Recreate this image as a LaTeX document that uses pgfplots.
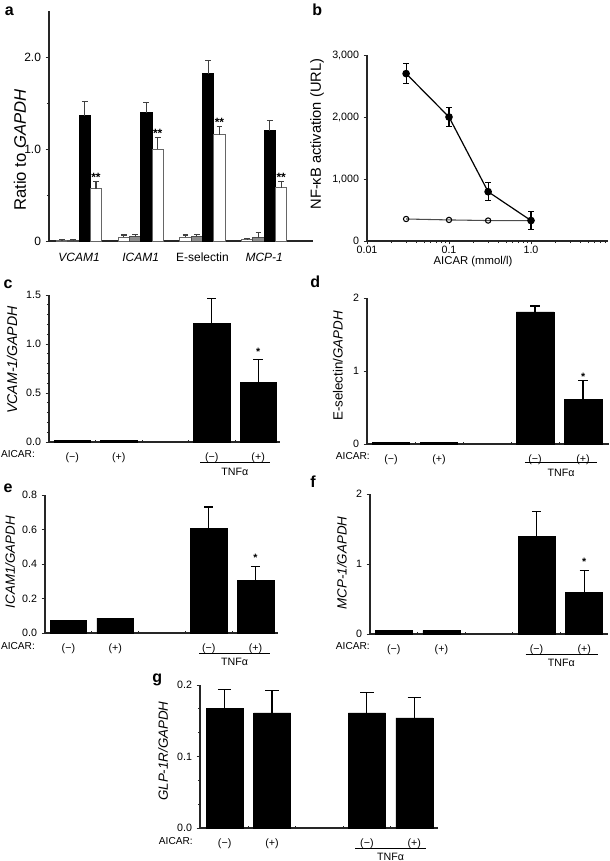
\documentclass[border=0pt]{standalone}
\usepackage{fontspec}
\setmainfont{Liberation Sans}
\usepackage{pgfplots}
\pgfplotsset{compat=1.18}

\newcommand{\tf}{\fontsize{8}{9}\selectfont}
\newcommand{\midticks}[1]{%
  \draw[line width=0.6pt, black!85] (axis cs:1.5,0) -- (axis cs:1.5,#1);
  \draw[line width=0.6pt, black!85] (axis cs:2.5,0) -- (axis cs:2.5,#1);
  \draw[line width=0.6pt, black!85] (axis cs:3.5,0) -- (axis cs:3.5,#1);
  \draw[line width=0.6pt, black!85] (axis cs:4.5,0) -- (axis cs:4.5,#1);
}
\pgfplotsset{
  base/.style={
    scale only axis,
    axis lines*=left,
    axis line style={line width=0.8pt, black!85},
    tick style={black!85, line width=0.6pt},
    tick align=outside,
    major tick length=2.5pt,
    minor tick length=1.5pt,
    tick label style={font=\tf},
    label style={font=\fontsize{10}{11}\selectfont},
    /pgf/number format/assume math mode=true,
    clip=false,
    anchor=south west,
  },
  barpanel/.style={
    base,
    xmin=0.5, ymin=0,
    xtick={1,2,4,5},
    xticklabels={(−),(+),(−),(+)},
    x tick style={draw=none},
    xticklabel style={yshift=-2pt},
  },
  blackbar/.style={ybar, bar width=0.78, bar shift=0pt, fill=black, draw=black, line width=0.4pt,
    error bars/y dir=plus, error bars/y explicit,
    error bars/error bar style={line width=0.9pt, black},
    error bars/error mark options={rotate=90, line width=0.9pt, mark size=3.5pt, black}},
  abar/.style={ybar, bar width=0.183, bar shift=0pt, line width=0.6pt,
    error bars/y dir=plus, error bars/y explicit,
    error bars/error bar style={line width=0.8pt, black!75},
    error bars/error mark options={rotate=90, line width=0.8pt, mark size=2.2pt, black!75}},
}

\begin{document}
\begin{tikzpicture}
\path[use as bounding box] (0,0) rectangle (457.5pt,-645.75pt);

% panel letters
\begin{scope}[every node/.style={font=\fontsize{12}{12}\selectfont\bfseries, anchor=base west, inner sep=0pt}]
\node at (3.5pt,-11.25pt) {a};
\node at (234pt,-11.25pt) {b};
\node at (2.5pt,-216pt) {c};
\node at (232.5pt,-215.25pt) {d};
\node at (2.5pt,-369pt) {e};
\node at (232.5pt,-365.25pt) {f};
\node at (114pt,-512pt) {g};
\end{scope}

% y label of panel a
\node[rotate=90, font=\fontsize{12.5}{13}\selectfont, inner sep=0pt] at (15pt,-112.5pt) {Ratio to \textit{GAPDH}};

% AICAR labels
\begin{scope}[every node/.style={font=\fontsize{7.6}{9}\selectfont, inner sep=0pt}]
\node[anchor=west] at (0.6pt,-340.5pt) {AICAR:};
\node[anchor=east] at (277.5pt,-342pt) {AICAR:};
\node[anchor=west] at (0.6pt,-484.5pt) {AICAR:};
\node[anchor=east] at (277.5pt,-484.5pt) {AICAR:};
\node[anchor=east] at (144.75pt,-630.75pt) {AICAR:};
\end{scope}

% ---------------- panel a
\begin{axis}[base, at={(36.75pt,-180.75pt)}, width=198pt, height=172.5pt,
  xmin=0.514, xmax=4.79, ymin=0, ymax=2.5,
  ytick={0,1,2}, yticklabels={0,1.0,2.0}, minor ytick={0.5,1.5},
  tick label style={font=\fontsize{9}{10}\selectfont},
  xtick={1,2,3,4},
  xticklabels={\textit{VCAM1},\textit{ICAM1},E-selectin,\textit{MCP-1}},
  x tick style={draw=none}, xticklabel style={yshift=-3pt},
]
\addplot[abar, fill=white, draw=black!60] coordinates {(0.725,0.01) +- (0,0.005) (1.725,0.04) +- (0,0.025) (2.725,0.04) +- (0,0.025) (3.725,0.015) +- (0,0.015)};
\addplot[abar, fill=black!45, draw=black!70] coordinates {(0.908,0.01) +- (0,0.005) (1.908,0.045) +- (0,0.025) (2.908,0.045) +- (0,0.025) (3.908,0.035) +- (0,0.055)};
\addplot[abar, fill=black, draw=black] coordinates {(1.092,1.36) +- (0,0.16) (2.092,1.395) +- (0,0.115) (3.092,1.82) +- (0,0.14) (4.092,1.20) +- (0,0.11)};
\addplot[abar, fill=white, draw=black!60] coordinates {(1.275,0.57) +- (0,0.075) (2.275,1.0) +- (0,0.13) (3.275,1.155) +- (0,0.085) (4.275,0.58) +- (0,0.065)};
\begin{scope}[every node/.style={font=\fontsize{9}{9}\selectfont\bfseries, inner sep=0pt}]
\node at (axis cs:1.275,0.69) {**};
\node at (axis cs:2.275,1.17) {**};
\node at (axis cs:3.275,1.29) {**};
\node at (axis cs:4.275,0.69) {**};
\end{scope}
\end{axis}

% ---------------- panel b
\begin{axis}[base, at={(275.25pt,-180.75pt)}, width=180.75pt, height=139.5pt,
  xmode=log, xmin=0.01, xmax=8.69, ymin=0, ymax=3000,
  xtick={0.01,0.1,1}, xticklabels={0.01,0.1,1.0},
  minor xtick={0.02,0.03,0.04,0.05,0.06,0.07,0.08,0.09,0.2,0.3,0.4,0.5,0.6,0.7,0.8,0.9,2,3,4,5,6,7,8},
  ytick={0,1000,2000,3000}, yticklabels={0,{1,000},{2,000},{3,000}},
  xticklabel style={yshift=2pt},
  xlabel={AICAR (mmol/l)},
  xlabel style={at={(axis description cs:0.44,-0.113)}, anchor=center, font=\fontsize{8.5}{9}\selectfont},
  ylabel={NF-κB activation (URL)},
  ylabel style={at={(axis description cs:-0.207,0.575)}, anchor=center, font=\fontsize{11}{12}\selectfont},
]
\addplot[black!70, line width=0.8pt, mark=o, mark size=2pt, mark options={fill=white, black, line width=0.8pt}] coordinates {(0.03,355) (0.1,340) (0.3,330) (1.0,330)};
\addplot[black, line width=0.9pt, mark=*, mark size=2.4pt,
  error bars/y dir=both, error bars/y explicit,
  error bars/error bar style={line width=0.9pt}, error bars/error mark options={rotate=90, line width=0.9pt, mark size=2pt}]
  coordinates {(0.03,2700) +- (0,160) (0.1,2000) +- (0,150) (0.3,795) +- (0,145) (1.0,330) +- (0,145)};
\end{axis}

% ---------------- panel c
\begin{axis}[barpanel, at={(36.75pt,-331.5pt)}, width=173.25pt, height=110.25pt,
  xmax=5.47, ymax=1.5,
  ytick={0,0.5,1,1.5}, yticklabels={0.0,0.5,1.0,1.5}, minor y tick num=4,
  ylabel={\textit{VCAM-1/GAPDH}},
  ylabel style={at={(axis description cs:-0.160,0.558)}, anchor=center, font=\fontsize{10.6}{11}\selectfont},
]
\addplot[blackbar] coordinates {(1,0.02) (2,0.02) (4,1.21) +- (0,0.255) (5,0.61) +- (0,0.23)};
\node[font=\tf\bfseries, inner sep=0pt] at (axis cs:5,0.92) {*};
\draw[line width=0.7pt] (axis cs:3.75,-0.204) -- (axis cs:5.26,-0.204);
\node[font=\tf] at (axis cs:4.5,-0.306) {TNFα};
\midticks{0.02}
\end{axis}

% ---------------- panel d
\begin{axis}[barpanel, at={(275.25pt,-333pt)}, width=181.5pt, height=109.5pt,
  xmax=5.54, ymax=2,
  ytick={0,1,2}, yticklabels={0,1,2},
  ylabel={E-selectin/\textit{GAPDH}},
  ylabel style={at={(axis description cs:-0.120,0.534)}, anchor=center},
]
\addplot[blackbar] coordinates {(1,0.02) (2,0.02) (4,1.81) +- (0,0.08) (5,0.61) +- (0,0.26)};
\node[font=\tf\bfseries, inner sep=0pt] at (axis cs:5,0.92) {*};
\draw[line width=0.7pt] (axis cs:3.79,-0.247) -- (axis cs:5.29,-0.247);
\node[font=\tf] at (axis cs:4.54,-0.397) {TNFα};
\midticks{0.027}
\end{axis}

% ---------------- panel e
\begin{axis}[barpanel, at={(33.75pt,-474.75pt)}, width=174.75pt, height=103.5pt,
  xmax=5.48, ymax=0.8,
  ytick={0,0.2,0.4,0.6,0.8}, yticklabels={0.0,0.2,0.4,0.6,0.8},
  ylabel={\textit{ICAM1/GAPDH}},
  ylabel style={at={(axis description cs:-0.150,0.514)}, anchor=center},
]
\addplot[blackbar] coordinates {(1,0.074) (2,0.086) (4,0.605) +- (0,0.125) (5,0.305) +- (0,0.08)};
\node[font=\tf\bfseries, inner sep=0pt] at (axis cs:5,0.435) {*};
\draw[line width=0.7pt] (axis cs:3.80,-0.116) -- (axis cs:5.31,-0.116);
\node[font=\tf] at (axis cs:4.55,-0.168) {TNFα};
\midticks{0.0116}
\end{axis}

% ---------------- panel f
\begin{axis}[barpanel, at={(277.5pt,-475.5pt)}, width=178.5pt, height=105pt,
  xmax=5.5, ymax=2,
  ytick={0,1,2}, yticklabels={0,1,2},
  ylabel={\textit{MCP-1/GAPDH}},
  ylabel style={at={(axis description cs:-0.118,0.507)}, anchor=center},
]
\addplot[blackbar] coordinates {(1,0.05) (2,0.05) (4,1.40) +- (0,0.35) (5,0.60) +- (0,0.31)};
\node[font=\tf\bfseries, inner sep=0pt] at (axis cs:5,1.03) {*};
\draw[line width=0.7pt] (axis cs:3.77,-0.286) -- (axis cs:5.28,-0.286);
\node[font=\tf] at (axis cs:4.52,-0.414) {TNFα};
\midticks{0.029}
\end{axis}

% ---------------- panel g
\begin{axis}[barpanel, at={(150pt,-621pt)}, width=178.5pt, height=107.25pt,
  xmin=0.48, xmax=5.5, ymax=0.2,
  ytick={0,0.1,0.2}, yticklabels={0.0,0.1,0.2}, minor y tick num=2,
  ylabel={\textit{GLP-1R/GAPDH}},
  ylabel style={at={(axis description cs:-0.155,0.538)}, anchor=center},
]
\addplot[blackbar, error bars/error mark options={rotate=90, line width=0.9pt, mark size=5pt, black}] coordinates {(1,0.167) +- (0,0.027) (2,0.161) +- (0,0.031) (4,0.161) +- (0,0.029) (5,0.154) +- (0,0.028)};
\draw[line width=0.7pt] (axis cs:3.75,-0.028) -- (axis cs:5.24,-0.028);
\node[font=\tf] at (axis cs:4.5,-0.0406) {TNFα};
\midticks{0.0028}
\end{axis}

\end{tikzpicture}
\end{document}
